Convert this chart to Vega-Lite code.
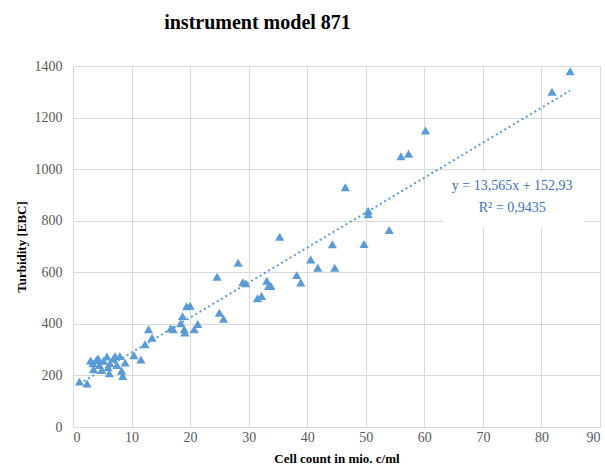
{
  "$schema": "https://vega.github.io/schema/vega-lite/v6.json",
  "width": 527,
  "height": 361,
  "autosize": {"type": "none"},
  "padding": {"left": 73, "top": 66, "right": 5, "bottom": 43},
  "background": "white",
  "title": {
    "text": "instrument model 871",
    "font": "Liberation Serif",
    "fontSize": 20,
    "fontWeight": "bold",
    "color": "#000000",
    "anchor": "middle",
    "frame": "group",
    "dx": -79,
    "offset": 26
  },
  "datasets": {
    "points": [
      {"cells": 1.1, "turbidity": 176}, {"cells": 2.4, "turbidity": 169},
      {"cells": 3.0, "turbidity": 258}, {"cells": 3.4, "turbidity": 247},
      {"cells": 3.5, "turbidity": 224}, {"cells": 4.0, "turbidity": 260},
      {"cells": 4.3, "turbidity": 266}, {"cells": 4.5, "turbidity": 240},
      {"cells": 4.9, "turbidity": 221}, {"cells": 5.2, "turbidity": 257},
      {"cells": 5.8, "turbidity": 273}, {"cells": 6.0, "turbidity": 232},
      {"cells": 6.2, "turbidity": 208}, {"cells": 6.3, "turbidity": 247},
      {"cells": 6.9, "turbidity": 266}, {"cells": 7.2, "turbidity": 275},
      {"cells": 7.5, "turbidity": 240}, {"cells": 8.0, "turbidity": 275},
      {"cells": 8.3, "turbidity": 218}, {"cells": 8.5, "turbidity": 198},
      {"cells": 8.9, "turbidity": 250}, {"cells": 10.4, "turbidity": 278},
      {"cells": 11.6, "turbidity": 262}, {"cells": 12.3, "turbidity": 321},
      {"cells": 12.9, "turbidity": 379}, {"cells": 13.5, "turbidity": 346},
      {"cells": 16.7, "turbidity": 383}, {"cells": 17.1, "turbidity": 379},
      {"cells": 18.4, "turbidity": 402}, {"cells": 18.7, "turbidity": 430},
      {"cells": 19.0, "turbidity": 379}, {"cells": 19.1, "turbidity": 366},
      {"cells": 19.4, "turbidity": 468}, {"cells": 20.0, "turbidity": 470},
      {"cells": 20.7, "turbidity": 379}, {"cells": 21.3, "turbidity": 399},
      {"cells": 24.6, "turbidity": 583}, {"cells": 25.0, "turbidity": 443},
      {"cells": 25.7, "turbidity": 420}, {"cells": 28.2, "turbidity": 637},
      {"cells": 29.0, "turbidity": 561}, {"cells": 29.5, "turbidity": 557},
      {"cells": 31.5, "turbidity": 499}, {"cells": 32.2, "turbidity": 508},
      {"cells": 33.1, "turbidity": 567}, {"cells": 33.4, "turbidity": 547},
      {"cells": 33.8, "turbidity": 547}, {"cells": 35.3, "turbidity": 738},
      {"cells": 38.2, "turbidity": 589}, {"cells": 38.9, "turbidity": 560},
      {"cells": 40.6, "turbidity": 650}, {"cells": 41.8, "turbidity": 618},
      {"cells": 44.3, "turbidity": 709}, {"cells": 44.7, "turbidity": 618},
      {"cells": 46.5, "turbidity": 930}, {"cells": 49.7, "turbidity": 710},
      {"cells": 50.4, "turbidity": 839}, {"cells": 50.4, "turbidity": 825},
      {"cells": 54.0, "turbidity": 764}, {"cells": 56.0, "turbidity": 1050},
      {"cells": 57.3, "turbidity": 1060}, {"cells": 60.2, "turbidity": 1150},
      {"cells": 81.8, "turbidity": 1300}, {"cells": 84.9, "turbidity": 1380}
    ],
    "trend": [
      {"cells": 1.1, "turbidity": 167.85},
      {"cells": 84.9, "turbidity": 1304.6}
    ],
    "box": [
      {"x1": 63.2, "x2": 87.5, "y1": 775, "y2": 990}
    ],
    "equation": [
      {"label": "y = 13,565x + 152,93", "cells": 75.0, "turbidity": 934},
      {"label": "R² = 0,9435", "cells": 75.0, "turbidity": 849}
    ]
  },
  "layer": [
    {
      "data": {"name": "box"},
      "mark": {"type": "rect", "color": "white"},
      "encoding": {
        "x": {"field": "x1", "type": "quantitative", "scale": {"domain": [0, 90], "nice": false}},
        "x2": {"field": "x2"},
        "y": {"field": "y1", "type": "quantitative", "scale": {"domain": [0, 1400], "nice": false}},
        "y2": {"field": "y2"}
      }
    },
    {
      "data": {"name": "points"},
      "mark": {"type": "point", "shape": "triangle-up", "filled": true, "color": "#5b9bd5", "opacity": 1, "size": 85},
      "encoding": {
        "x": {
          "field": "cells", "type": "quantitative",
          "scale": {"domain": [0, 90], "nice": false},
          "axis": {
            "values": [0, 10, 20, 30, 40, 50, 60, 70, 80, 90], "format": "d",
            "title": "Cell count in mio. c/ml",
            "labelFont": "Times New Roman, Liberation Serif, serif", "labelFontSize": 14, "labelColor": "#595959",
            "labelPadding": 3, "titlePadding": 8
          }
        },
        "y": {
          "field": "turbidity", "type": "quantitative",
          "scale": {"domain": [0, 1400], "nice": false},
          "axis": {
            "values": [0, 200, 400, 600, 800, 1000, 1200, 1400], "format": "d",
            "title": "Turbidity [EBC]", "domain": false,
            "labelFont": "Times New Roman, Liberation Serif, serif", "labelFontSize": 14, "labelColor": "#595959",
            "labelPadding": 11, "titlePadding": 6
          }
        }
      }
    },
    {
      "data": {"name": "trend"},
      "mark": {"type": "line", "color": "#5b9bd5", "strokeWidth": 2, "strokeDash": [2, 3]},
      "encoding": {
        "x": {"field": "cells", "type": "quantitative"},
        "y": {"field": "turbidity", "type": "quantitative"}
      }
    },
    {
      "data": {"name": "equation"},
      "mark": {"type": "text", "font": "Times New Roman, Liberation Serif, serif", "fontSize": 14, "color": "#3b72b5", "align": "center", "baseline": "middle"},
      "encoding": {
        "x": {"field": "cells", "type": "quantitative"},
        "y": {"field": "turbidity", "type": "quantitative"},
        "text": {"field": "label"}
      }
    }
  ],
  "config": {
    "view": {"stroke": null},
    "axis": {
      "grid": true,
      "gridColor": "#d9d9d9",
      "gridWidth": 1,
      "domainColor": "#d9d9d9",
      "ticks": false,
      "titleFont": "Liberation Serif",
      "titleFontSize": 13,
      "titleFontWeight": "bold",
      "titleColor": "#000000"
    }
  }
}
